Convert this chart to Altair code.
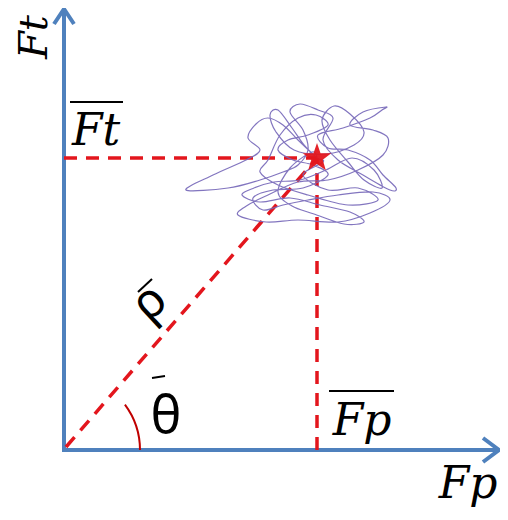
import altair as alt
import pandas as pd

# Diagram coordinates: origin at the axes corner, Fp to the right, Ft upward
fp_mean = 253
ft_mean = 292
axis_end = 433

# scribble trajectory (Fp, Ft) samples around the mean point
scribble_fp = [253, 234, 219, 204, 192, 184, 196, 182, 149, 122, 164, 196, 219, 234, 244, 239, 226, 236,
               254, 269, 259, 274, 299, 326, 332, 319, 306, 284, 264, 254, 279, 306, 318, 322, 299, 286,
               309, 324, 319, 294, 264, 234, 204, 184, 174, 202, 234, 274, 306, 326, 309, 274, 244, 219,
               199, 189, 209, 239, 264, 249, 229, 214, 224, 244, 264, 252, 234, 216, 204, 196, 214, 244,
               284, 314, 294, 264, 239, 259, 253,
               240, 228, 214, 206, 212, 230, 262, 290, 300, 286, 270, 258, 266, 284, 300, 318, 310, 288,
               262, 236, 210, 190, 178, 196, 226, 256, 286, 300, 280, 250, 228, 214, 226, 248, 253]
scribble_ft = [292, 310, 325, 332, 326, 312, 300, 290, 275, 260, 262, 270, 278, 285, 300, 320, 338, 346,
               340, 332, 310, 290, 275, 260, 262, 275, 290, 300, 302, 315, 322, 332, 340, 343, 338, 325,
               320, 312, 295, 280, 270, 268, 255, 245, 235, 228, 230, 228, 237, 250, 258, 255, 250, 245,
               240, 252, 260, 262, 275, 285, 290, 300, 310, 315, 325, 335, 332, 315, 290, 278, 265, 255,
               245, 250, 262, 260, 275, 288, 292,
               305, 322, 340, 335, 318, 300, 296, 305, 318, 336, 344, 330, 310, 288, 270, 262, 280, 292,
               280, 270, 268, 262, 255, 248, 252, 245, 238, 228, 226, 236, 244, 258, 282, 298, 292]

blue = "#4F81BD"
red = "#E3161D"
STAR = ("M0,-1L0.235,-0.324L0.951,-0.309L0.38,0.124L0.588,0.809L0,0.4"
        "L-0.588,0.809L-0.38,0.124L-0.951,-0.309L-0.235,-0.324Z")

xs = alt.Scale(domain=[-56, 436], nice=False, zero=False)
ys = alt.Scale(domain=[-58, 442], nice=False, zero=False)


def X(f):
    return alt.X(f, type="quantitative", scale=xs, axis=None)


def Y(f):
    return alt.Y(f, type="quantitative", scale=ys, axis=None)


# axes
axes_df = pd.DataFrame({"x": [0, -2], "y": [-2, 0], "x2": [0, axis_end], "y2": [440, 0]})
axes = alt.Chart(axes_df).mark_rule(color=blue, strokeWidth=4).encode(
    x=X("x"), y=Y("y"), x2="x2", y2="y2")

head_v = alt.Chart(pd.DataFrame({"x": [-10, 0, 10], "y": [426, 441, 426], "o": [0, 1, 2]})).mark_line(
    color=blue, strokeWidth=4).encode(x=X("x"), y=Y("y"), order="o:Q")
head_h = alt.Chart(pd.DataFrame({"x": [419, 435, 419], "y": [12, 0, -12], "o": [0, 1, 2]})).mark_line(
    color=blue, strokeWidth=4).encode(x=X("x"), y=Y("y"), order="o:Q")

# dashed guides
guides_df = pd.DataFrame({
    "x": [0, fp_mean, 2], "y": [ft_mean, 0, 3],
    "x2": [fp_mean, fp_mean, fp_mean], "y2": [ft_mean, ft_mean, ft_mean]})
guides = alt.Chart(guides_df).mark_rule(color=red, strokeWidth=3.5, strokeDash=[13, 9]).encode(
    x=X("x"), y=Y("y"), x2="x2", y2="y2")

# scribble
scr_df = pd.DataFrame({"x": scribble_fp, "y": scribble_ft, "o": list(range(len(scribble_fp)))})
scribble = alt.Chart(scr_df).mark_line(color="#7466B8", strokeWidth=1.2, interpolate="cardinal",
                                       opacity=0.9).encode(
    x=X("x"), y=Y("y"), order="o:Q")

# mean star
star = alt.Chart(pd.DataFrame({"x": [fp_mean], "y": [ft_mean]})).mark_point(
    shape=STAR, filled=True, color=red, size=900, opacity=0.95).encode(x=X("x"), y=Y("y"))

# angle arc
arc = alt.Chart(pd.DataFrame({"x": [0], "y": [0]})).mark_arc(color="#C00000").encode(
    x=X("x"), y=Y("y"),
    theta=alt.value(0.93), theta2=alt.value(1.5708),
    radius=alt.value(75), radius2=alt.value(77))

# labels
serif_it = dict(font="DejaVu Serif", fontStyle="italic", color="black",
                align="center", baseline="alphabetic")
lab_ft_axis = alt.Chart(pd.DataFrame({"x": [-17], "y": [413], "t": ["Ft"]})).mark_text(
    angle=270, fontSize=40, **serif_it).encode(x=X("x"), y=Y("y"), text="t:N")
lab_fp_axis = alt.Chart(pd.DataFrame({"x": [404], "y": [-48], "t": ["Fp"]})).mark_text(
    fontSize=44, **serif_it).encode(x=X("x"), y=Y("y"), text="t:N")
lab_means = alt.Chart(pd.DataFrame({"x": [32, 298], "y": [305, 15], "t": ["Ft", "Fp"]})).mark_text(
    fontSize=44, **serif_it).encode(x=X("x"), y=Y("y"), text="t:N")

bars_df = pd.DataFrame({"x": [6, 265, 74, 88], "y": [348, 59, 158, 72],
                        "x2": [59, 330, 88, 101], "y2": [348, 59, 171, 74]})
bars = alt.Chart(bars_df).mark_rule(color="black", strokeWidth=2).encode(
    x=X("x"), y=Y("y"), x2="x2", y2="y2")

rho = alt.Chart(pd.DataFrame({"x": [86], "y": [147], "t": ["ρ"]})).mark_text(
    font="Noto Sans", fontSize=48, angle=317, align="center", baseline="middle", color="black").encode(
    x=X("x"), y=Y("y"), text="t:N")
theta_lab = alt.Chart(pd.DataFrame({"x": [102], "y": [17], "t": ["θ"]})).mark_text(
    font="Noto Sans", fontSize=52, align="center", baseline="alphabetic", color="black").encode(
    x=X("x"), y=Y("y"), text="t:N")

chart = alt.layer(axes, head_v, head_h, guides, scribble, star, arc, lab_ft_axis, lab_fp_axis,
                  lab_means, bars, rho, theta_lab).properties(
    width=492, height=500, padding=0, autosize=alt.AutoSizeParams(type="none")
).configure_view(stroke=None, clip=False)

chart.save("out.html", embed_options={"renderer": "svg", "actions": False})
